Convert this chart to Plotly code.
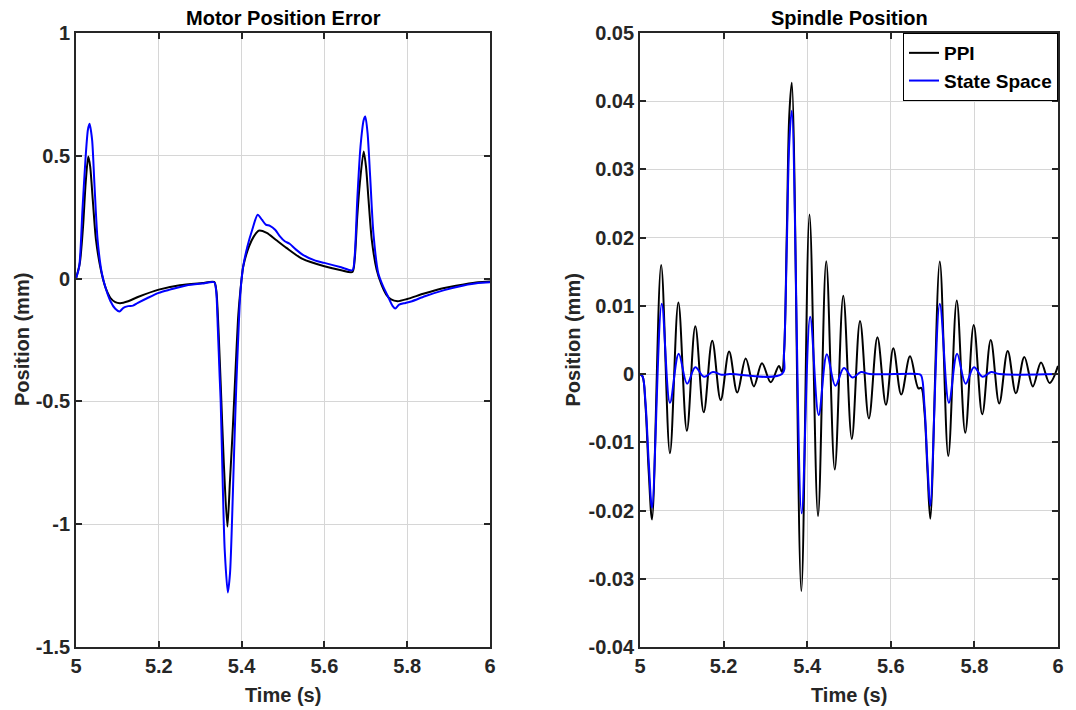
import plotly.graph_objects as go

# ---------------- data ----------------
motor_t_ppi = [5.0, 5.0093, 5.0171, 5.0233, 5.0296, 5.0342, 5.0405, 5.0482, 5.0599, 5.0716,
               5.0833, 5.095, 5.1066, 5.126, 5.1494, 5.2, 5.2506, 5.305, 5.3338, 5.339,
               5.344, 5.350, 5.357, 5.3657, 5.372, 5.379, 5.386, 5.392, 5.397, 5.404,
               5.418, 5.4296, 5.4412, 5.4607, 5.4825, 5.5082, 5.5471, 5.6, 5.6405, 5.6677,
               5.6731, 5.6794, 5.6856, 5.6949, 5.7004, 5.7066, 5.7144, 5.7261, 5.7377, 5.7494,
               5.7611, 5.7767, 5.8, 5.8389, 5.8895, 5.9362, 5.9712, 6.0]
motor_ppi = [0.0, 0.064, 0.213, 0.389, 0.497, 0.457, 0.321, 0.159, 0.037, -0.038,
             -0.079, -0.096, -0.100, -0.092, -0.075, -0.045, -0.027, -0.018, -0.0135, -0.05,
             -0.2, -0.45, -0.75, -1.01, -0.82, -0.6, -0.35, -0.15, -0.05, 0.05,
             0.131, 0.172, 0.195, 0.186, 0.158, 0.125, 0.080, 0.050, 0.034, 0.027,
             0.077, 0.253, 0.389, 0.518, 0.457, 0.321, 0.159, 0.037, -0.024, -0.065,
             -0.085, -0.092, -0.083, -0.062, -0.038, -0.024, -0.015, -0.012]

motor_t_ss = [5.0, 5.0078, 5.0156, 5.0233, 5.0288, 5.0327, 5.0389, 5.0444, 5.0521, 5.0623,
              5.0716, 5.0833, 5.0949, 5.105, 5.1144, 5.126, 5.1377, 5.1494, 5.1728, 5.2,
              5.2272, 5.2661, 5.305, 5.3338, 5.3385, 5.3425, 5.347, 5.3495, 5.3544, 5.3592,
              5.3667, 5.372, 5.377, 5.382, 5.3875, 5.3916, 5.3955, 5.3984, 5.4039, 5.414,
              5.4257, 5.4389, 5.449, 5.4584, 5.4685, 5.481, 5.4926, 5.5043, 5.516, 5.5315,
              5.5471, 5.5782, 5.6, 5.6405, 5.6677, 5.6731, 5.6794, 5.6872, 5.6949, 5.6988,
              5.7043, 5.7105, 5.7183, 5.73, 5.7416, 5.7533, 5.765, 5.7712, 5.7805, 5.7961,
              5.8117, 5.8428, 5.8895, 5.9362, 5.9712, 6.0]
motor_ss = [0.0, 0.05, 0.28, 0.497, 0.606, 0.630, 0.565, 0.389, 0.159, 0.023,
            -0.038, -0.092, -0.123, -0.134, -0.119, -0.112, -0.110, -0.099, -0.079, -0.058,
            -0.045, -0.028, -0.020, -0.015, -0.05, -0.2, -0.4, -0.5, -0.833, -1.105,
            -1.278, -1.2, -0.98, -0.7, -0.42, -0.25, -0.1, -0.03, 0.05, 0.131,
            0.199, 0.26, 0.24, 0.22, 0.215, 0.199, 0.172, 0.152, 0.142, 0.118,
            0.098, 0.073, 0.064, 0.046, 0.034, 0.091, 0.321, 0.538, 0.646, 0.66,
            0.592, 0.416, 0.186, 0.023, -0.031, -0.072, -0.112, -0.122, -0.106, -0.099,
            -0.092, -0.072, -0.047, -0.028, -0.018, -0.015]

spindle_t_ppi = [5.0, 5.006, 5.013, 5.021, 5.0288, 5.0506, 5.0716, 5.0918, 5.1121, 5.1323,
                 5.1525, 5.1728, 5.193, 5.2132, 5.2327, 5.2529, 5.2724, 5.2918, 5.3128, 5.3323,
                 5.3396, 5.3445, 5.3513, 5.3572, 5.3631, 5.3859, 5.4055, 5.4259, 5.4455, 5.4659,
                 5.4863, 5.5067, 5.5264, 5.5476, 5.568, 5.5884, 5.606, 5.625, 5.646, 5.666,
                 5.6727, 5.6805, 5.688, 5.6945, 5.7172, 5.7375, 5.7578, 5.7781, 5.7984, 5.8188,
                 5.8391, 5.8594, 5.8797, 5.8992, 5.9195, 5.9398, 5.9594, 5.98, 6.0]
spindle_ppi = [0.0, -0.0003, -0.0045, -0.0145, -0.0213, 0.0160, -0.0116, 0.0105, -0.0083, 0.0070,
               -0.0056, 0.0049, -0.0038, 0.0033, -0.0027, 0.0023, -0.0018, 0.0016, -0.0012, 0.0012,
               0.0003, 0.003, 0.021, 0.038, 0.0427, -0.0318, 0.0234, -0.0208, 0.01655, -0.0140,
               0.0115, -0.0095, 0.0078, -0.0065, 0.0054, -0.0045, 0.0038, -0.0030, 0.0026, -0.0021,
               -0.0020, -0.0055, -0.0145, -0.0212, 0.0165, -0.0120, 0.0108, -0.0086, 0.0072, -0.0059,
               0.0050, -0.0043, 0.0034, -0.0028, 0.0025, -0.0018, 0.0017, -0.0013, 0.0012]

spindle_t_ss = [5.0, 5.006, 5.013, 5.021, 5.0288, 5.0521, 5.0716, 5.0926, 5.1128, 5.1323,
                5.1533, 5.1743, 5.195, 5.215, 5.3396, 5.3445, 5.3513, 5.3572, 5.3631, 5.3867,
                5.4071, 5.4275, 5.4471, 5.4675, 5.4879, 5.5083, 5.5287, 5.55, 5.6667, 5.6727,
                5.6805, 5.688, 5.6945, 5.7172, 5.739, 5.7586, 5.779, 5.799, 5.8195, 5.84,
                5.86, 6.0]
spindle_ss = [0.0, -0.0003, -0.004, -0.013, -0.0196, 0.0103, -0.0042, 0.0030, -0.0014, 0.0010,
              -0.0004, 0.0003, -0.0001, 0.0, 0.0, 0.003, 0.019, 0.034, 0.0386, -0.0204,
              0.0084, -0.0060, 0.0029, -0.0017, 0.0009, -0.0005, 0.0003, 0.0, 0.0, -0.0002,
              -0.0046, -0.0135, -0.0193, 0.0103, -0.0042, 0.0030, -0.0014, 0.0010, -0.0004, 0.0003,
              0.0, 0.0]

series_names = ["PPI", "State Space"]
titles = ["Motor Position Error", "Spindle Position"]
x_label = "Time (s)"
y_label = "Position (mm)"

x_ticks = [5, 5.2, 5.4, 5.6, 5.8, 6]
x_tick_labels = ["5", "5.2", "5.4", "5.6", "5.8", "6"]
motor_y_ticks = [-1.5, -1, -0.5, 0, 0.5, 1]
motor_y_tick_labels = ["-1.5", "-1", "-0.5", "0", "0.5", "1"]
spindle_y_ticks = [-0.04, -0.03, -0.02, -0.01, 0, 0.01, 0.02, 0.03, 0.04, 0.05]
spindle_y_tick_labels = ["-0.04", "-0.03", "-0.02", "-0.01", "0", "0.01", "0.02", "0.03", "0.04", "0.05"]

# ---------------- figure ----------------
W, H = 1076, 710
ML, MR, MT, MB = 76, 18, 33, 63
PW, PH = W - ML - MR, H - MT - MB


def fx(p):
    return (p - ML) / PW


def fy(p):
    return (H - MB - p) / PH


FONT = "Liberation Sans"
TXT = "#262626"
BLACK = "#000000"
BLUE = "#0000FF"
LW = 2

fig = go.Figure()
fig.add_trace(go.Scatter(x=motor_t_ppi, y=motor_ppi, mode="lines", name=series_names[0],
                         line=dict(color=BLACK, width=LW, shape="spline", smoothing=0.7),
                         xaxis="x", yaxis="y", showlegend=False))
fig.add_trace(go.Scatter(x=motor_t_ss, y=motor_ss, mode="lines", name=series_names[1],
                         line=dict(color=BLUE, width=LW, shape="spline", smoothing=0.7),
                         xaxis="x", yaxis="y", showlegend=False))
fig.add_trace(go.Scatter(x=spindle_t_ppi, y=spindle_ppi, mode="lines", name=series_names[0],
                         line=dict(color=BLACK, width=LW, shape="spline", smoothing=1.0),
                         xaxis="x2", yaxis="y2"))
fig.add_trace(go.Scatter(x=spindle_t_ss, y=spindle_ss, mode="lines", name=series_names[1],
                         line=dict(color=BLUE, width=LW, shape="spline", smoothing=1.0),
                         xaxis="x2", yaxis="y2"))

tickfont = dict(family=FONT, size=20, color=TXT, weight="bold")
common = dict(ticks="inside", ticklen=6, tickwidth=1.5, tickcolor=TXT,
              showline=True, linecolor=TXT, linewidth=1.8, mirror="ticks",
              showgrid=True, gridcolor="#d6d6d6", gridwidth=1, zeroline=False,
              tickfont=tickfont, fixedrange=True, automargin=False)

fig.update_layout(
    width=W, height=H, autosize=False,
    margin=dict(l=ML, r=MR, t=MT, b=MB, pad=0),
    paper_bgcolor="white", plot_bgcolor="white",
    xaxis=dict(domain=[fx(76), fx(490)], anchor="y", range=[5, 6],
               tickvals=x_ticks, ticktext=x_tick_labels, **common),
    yaxis=dict(domain=[0, 1], anchor="x", range=[-1.5, 1],
               tickvals=motor_y_ticks, ticktext=motor_y_tick_labels, **common),
    xaxis2=dict(domain=[fx(640), 1], anchor="y2", range=[5, 6],
                tickvals=x_ticks, ticktext=x_tick_labels, **common),
    yaxis2=dict(domain=[0, 1], anchor="x2", range=[-0.04, 0.05],
                tickvals=spindle_y_ticks, ticktext=spindle_y_tick_labels, **common),
    legend=dict(x=1, xanchor="right", y=1, yanchor="top",
                bgcolor="white", bordercolor=BLACK, borderwidth=1,
                font=dict(family=FONT, size=19, color=BLACK, weight="bold"),
                tracegroupgap=0, itemwidth=30),
    showlegend=True,
)

lab = dict(family=FONT, size=20, color=TXT, weight="bold")
ttl = dict(family=FONT, size=20, color=BLACK, weight="bold")
ann = [
    dict(text=titles[0], x=fx(283), y=fy(17.5), font=ttl),
    dict(text=titles[1], x=fx(849), y=fy(17.5), font=ttl),
    dict(text=x_label, x=fx(283), y=fy(695), font=lab),
    dict(text=x_label, x=fx(849), y=fy(695), font=lab),
    dict(text=y_label, x=fx(22), y=fy(340), font=lab, textangle=-90),
    dict(text=y_label, x=fx(572.5), y=fy(340), font=lab, textangle=-90),
]
for a in ann:
    a.update(xref="paper", yref="paper", showarrow=False, xanchor="center", yanchor="middle")
fig.update_layout(annotations=ann)

fig.write_html("out.html")
